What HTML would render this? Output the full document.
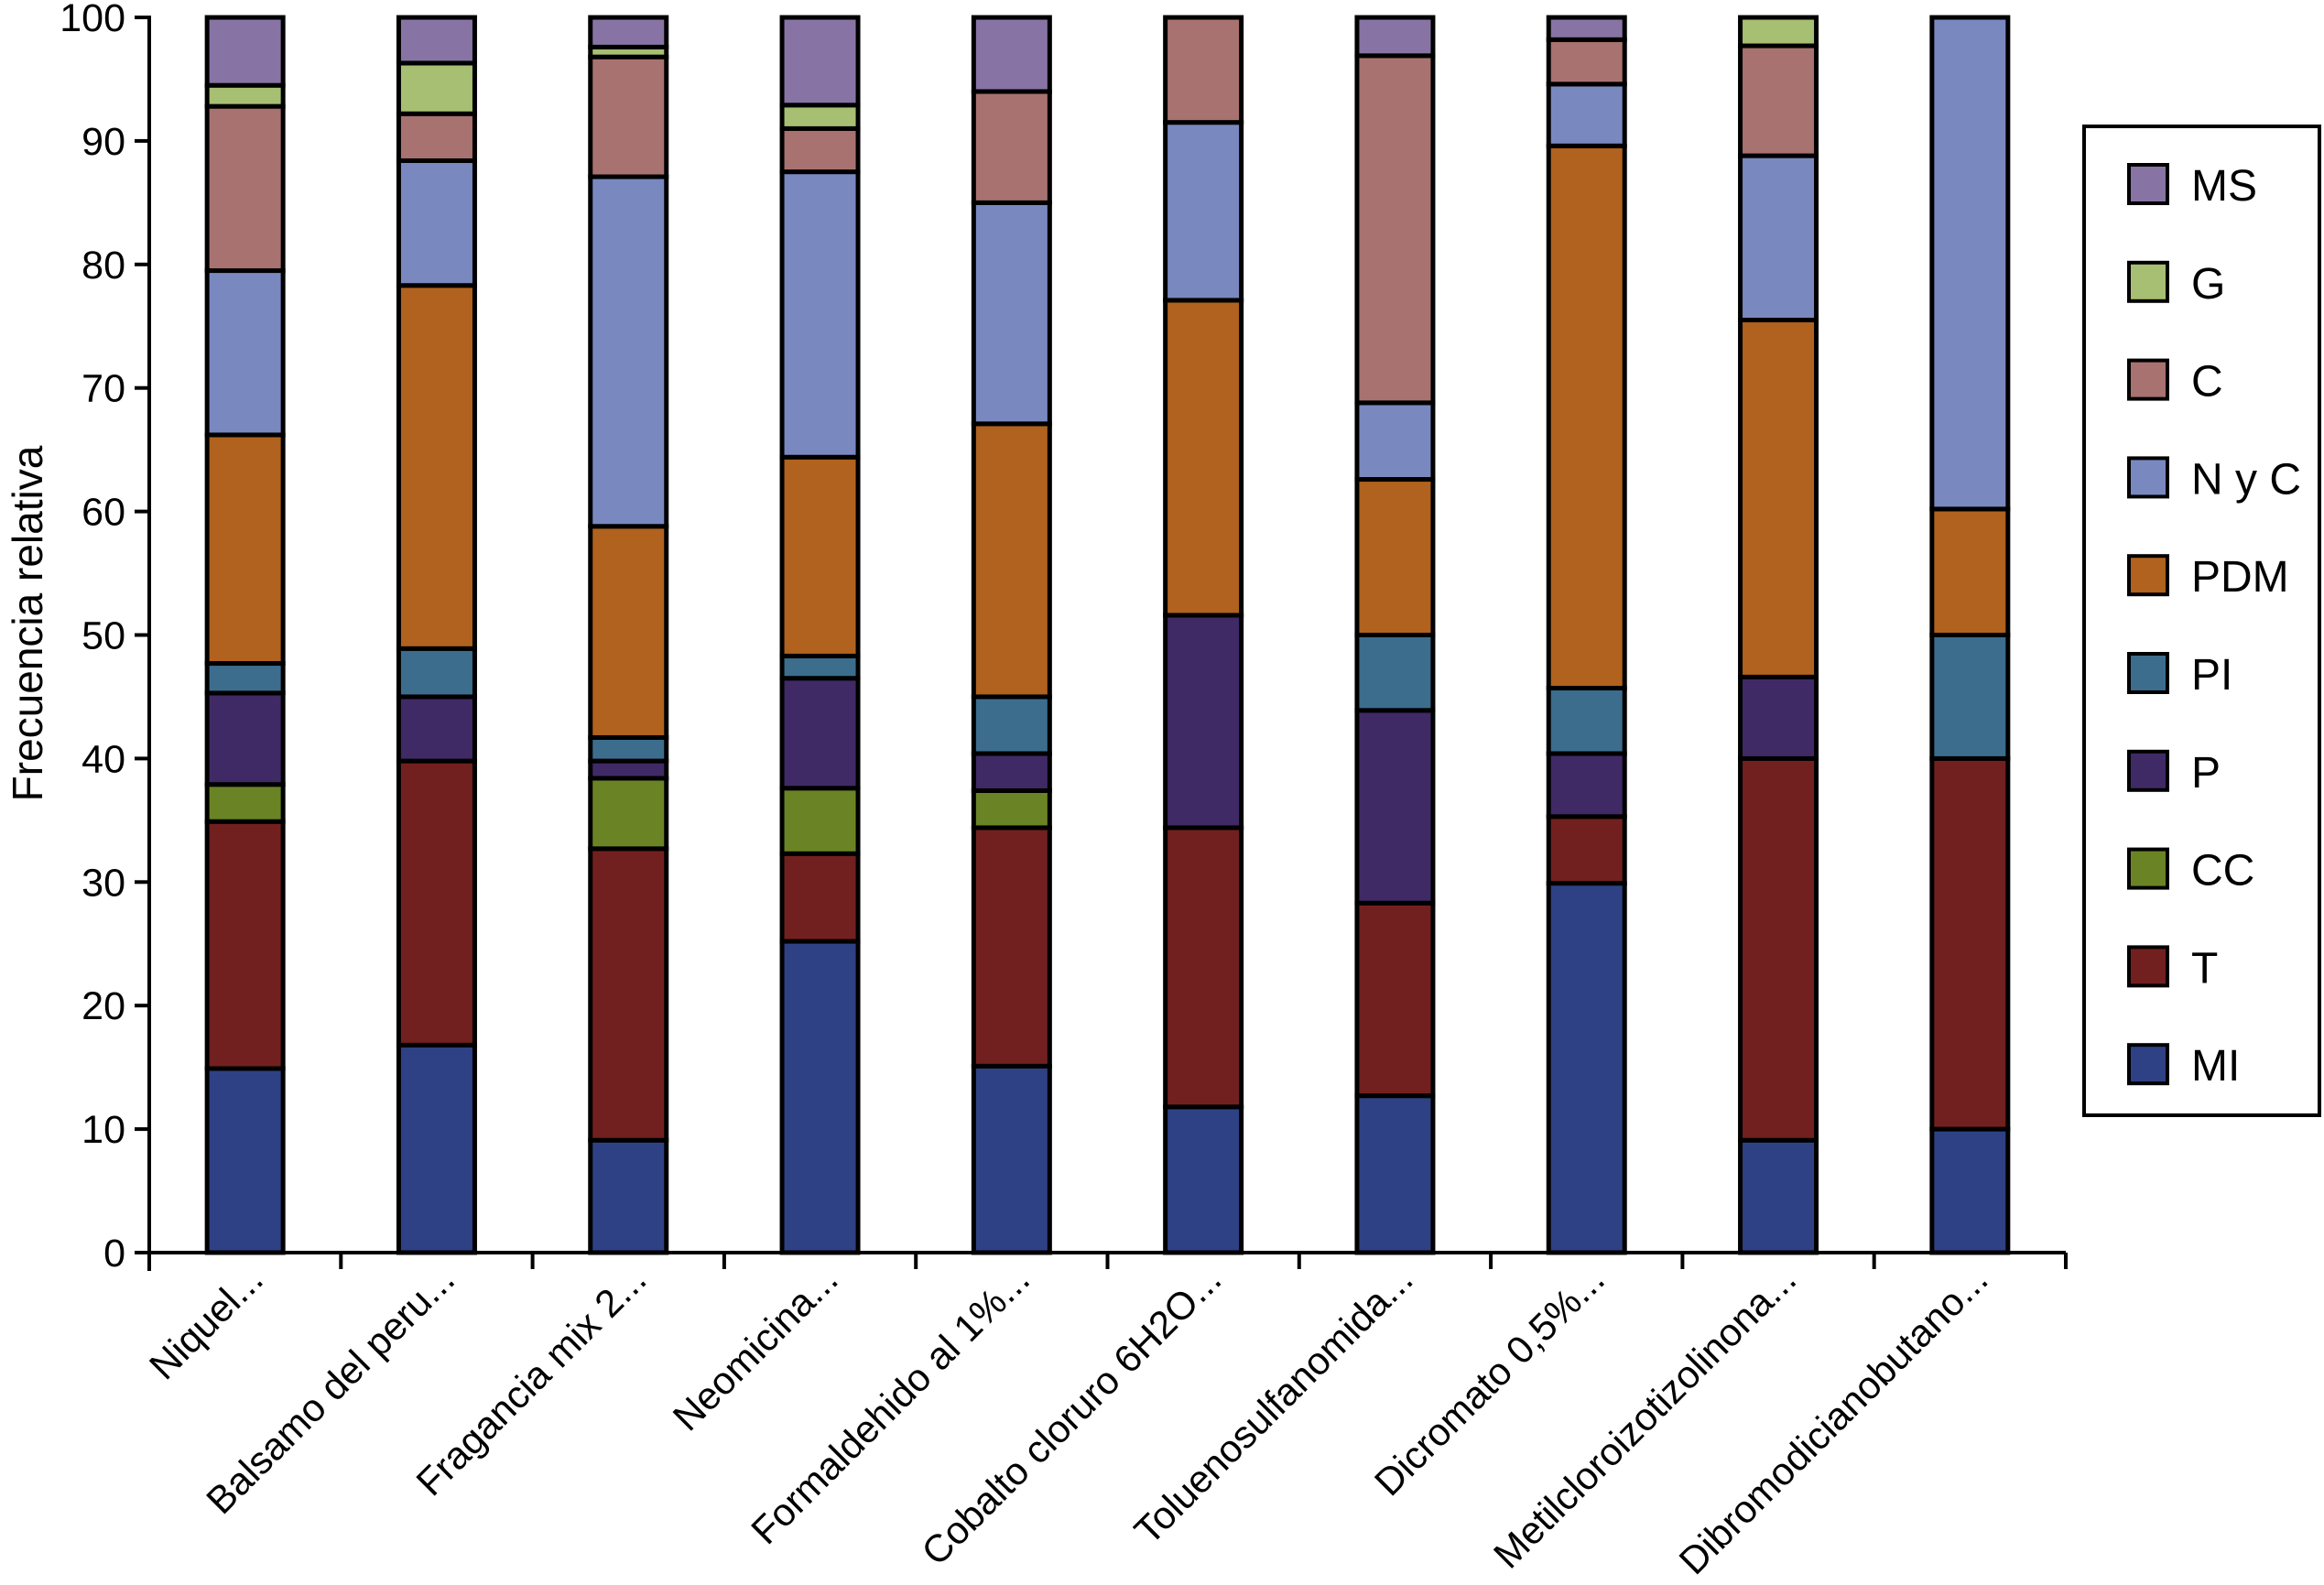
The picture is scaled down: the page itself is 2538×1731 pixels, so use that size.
<!DOCTYPE html>
<html><head><meta charset="utf-8"><style>
html,body{margin:0;padding:0;background:#fff}
svg{display:block;font-family:"Liberation Sans",Arial,sans-serif}
</style></head><body>
<svg id="chart" width="2538" height="1731" viewBox="0 0 2538 1731" xmlns="http://www.w3.org/2000/svg">
<g id="bars"></g>
<g id="axes"></g>
<g id="legend"></g>
</svg>
<script>
const categories = ["Niquel...","Balsamo del peru...","Fragancia mix 2...","Neomicina...","Formaldehido al 1%...","Cobalto cloruro 6H2O...","Toluenosulfanomida...","Dicromato 0,5%...","Metilcloroizotizolinona...","Dibromodicianobutano..."];
const seriesNames = ["MI","T","CC","P","PI","PDM","N y C","C","G","MS"];
const seriesColors = ["#2f4185","#72201f","#6a8425","#3f2a66","#3c6d8c","#b0621e","#7a88c0","#a87270","#a7bf72","#8774a4"];
const MI   = [14.9,16.8,9.1,25.2,15.1,11.8,12.7,29.9,9.1,10];
const T    = [20,23,23.6,7.1,19.3,22.6,15.6,5.4,30.9,30];
const CC   = [3,0,5.7,5.3,3,0,0,0,0,0];
const P    = [7.4,5.2,1.4,8.9,3,17.2,15.6,5.1,6.6,0];
const PI   = [2.4,3.9,1.9,1.8,4.6,0,6.1,5.3,0,10];
const PDM  = [18.5,29.4,17.1,16.1,22.1,25.5,12.6,43.9,28.9,10.2];
const NyC  = [13.3,10.1,28.3,23.1,17.9,14.4,6.2,5,13.3,39.8];
const C    = [13.3,3.8,9.7,3.5,9,8.5,28.1,3.6,8.9,0];
const G    = [1.7,4.1,0.8,1.9,0,0,0,0,2.3,0];
const MS   = [5.5,3.7,2.4,7.1,6,0,3.1,1.8,0,0];
const series = [MI,T,CC,P,PI,PDM,NyC,C,G,MS];
const yTicks = [0,10,20,30,40,50,60,70,80,90,100];

const NS="http://www.w3.org/2000/svg";
const X0=163, X1=2256, Y0=1368, Y100=19;
const band=(X1-X0)/categories.length, barW=83;
const yS=v=>Y0-(v/100)*(Y0-Y100);
const xC=i=>X0+band*(i+0.5);
function mk(tag,attrs,parent){const e=document.createElementNS(NS,tag);for(const k in attrs)e.setAttribute(k,attrs[k]);parent.appendChild(e);return e;}
const gb=document.getElementById('bars'), ga=document.getElementById('axes'), gl=document.getElementById('legend');

categories.forEach((c,i)=>{
  let cum=0;
  series.forEach((s,k)=>{
    const v=s[i]; if(!v){return;}
    const r=mk('rect',{x:xC(i)-barW/2,y:yS(cum+v),width:barW,height:yS(cum)-yS(cum+v),fill:seriesColors[k],stroke:'#000','stroke-width':5},gb);
    
    
    cum+=v;
  });
});

const ya=mk('line',{x1:X0,y1:Y100-2,x2:X0,y2:Y0+20,stroke:'#000','stroke-width':4},ga);


const xa=mk('line',{x1:X0-2,y1:Y0,x2:X1,y2:Y0,stroke:'#000','stroke-width':4},ga);


yTicks.forEach(t=>{
  mk('line',{x1:X0-16,y1:yS(t),x2:X0,y2:yS(t),stroke:'#000','stroke-width':4},ga);
  const tx=mk('text',{x:137,y:yS(t)+15,'text-anchor':'end','font-size':43},ga);
  tx.textContent=t;
  
  
});
for(let i=0;i<=categories.length;i++){
  mk('line',{x1:X0+band*i,y1:Y0,x2:X0+band*i,y2:Y0+18,stroke:'#000','stroke-width':4},ga);
}
categories.forEach((c,i)=>{
  const x=xC(i)+22, y=1400;
  const t=mk('text',{x:x,y:y,'text-anchor':'end','font-size':42,transform:`rotate(-45 ${x} ${y})`},ga);
  t.textContent=c;
  
  
});
const yt=mk('text',{x:0,y:0,'text-anchor':'middle','font-size':46,transform:'translate(46 681) rotate(-90)'},ga);
yt.textContent='Frecuencia relativa';



const lb=mk('rect',{x:2276,y:138,width:257,height:1080,fill:'#fff',stroke:'#000','stroke-width':4},gl);


for(let j=0;j<seriesNames.length;j++){
  const k=seriesNames.length-1-j;
  const y=180+j*106.8;
  const g=mk('g',{},gl);
  
  
  mk('rect',{x:2325,y:y,width:42,height:42,fill:seriesColors[k],stroke:'#000','stroke-width':4},g);
  const t=mk('text',{x:2393,y:y+39,'font-size':48},g);
  t.textContent=seriesNames[k];
}
</script>
</body></html>
